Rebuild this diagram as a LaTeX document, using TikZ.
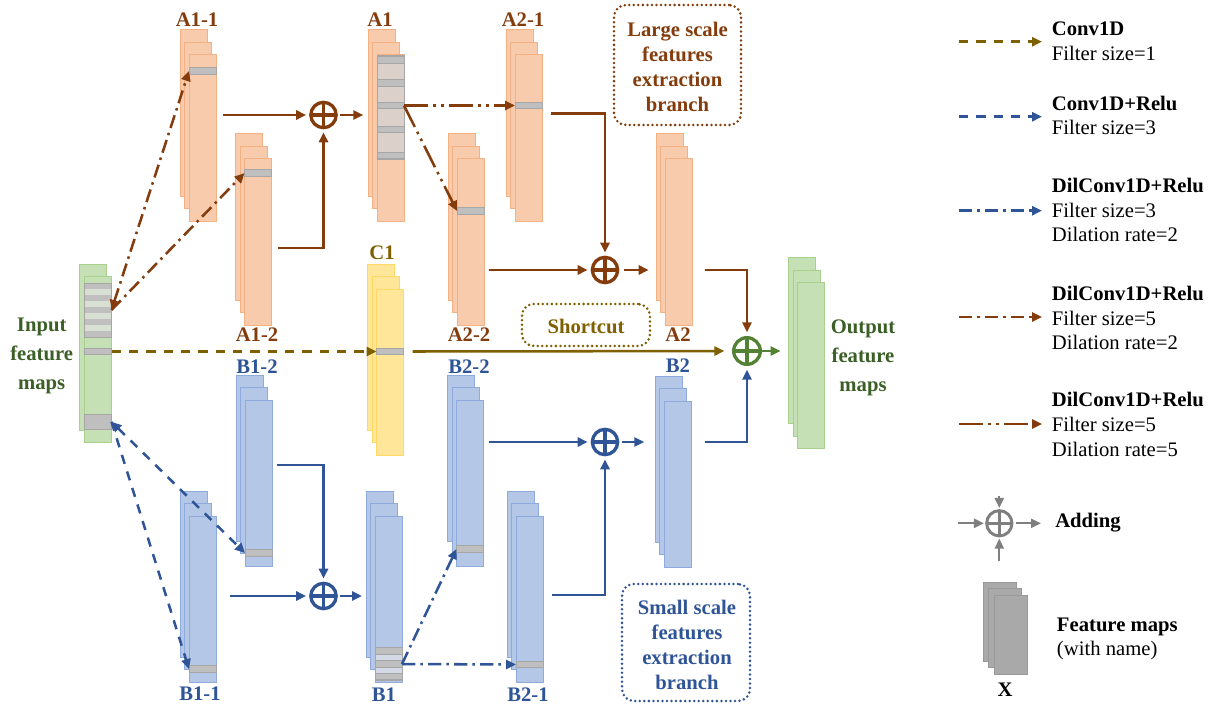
\documentclass[tikz,border=0pt]{standalone}
\usepackage{fontspec}
\setmainfont{Liberation Serif}
\usetikzlibrary{arrows.meta,calc}
\definecolor{orf}{HTML}{F8CBAD}
\definecolor{ord}{HTML}{F4B183}
\definecolor{brn}{HTML}{843C0C}
\definecolor{blf}{HTML}{B4C7E7}
\definecolor{bld}{HTML}{8FAADC}
\definecolor{blu}{HTML}{2F5597}
\definecolor{yef}{HTML}{FFE699}
\definecolor{yed}{HTML}{FFD966}
\definecolor{olv}{HTML}{7F6000}
\definecolor{grf}{HTML}{C5E0B4}
\definecolor{grd}{HTML}{A9D18E}
\definecolor{grt}{HTML}{3B5F26}
\definecolor{grp}{HTML}{548235}
\definecolor{barf}{HTML}{BFBFBF}
\definecolor{bard}{HTML}{A6A6A6}
\definecolor{lgy}{HTML}{7F7F7F}
\definecolor{legf}{HTML}{A9A9A9}
\definecolor{legd}{HTML}{999999}
\definecolor{a1reg}{HTML}{DCD1CA}
\definecolor{b1reg}{HTML}{D3DAE6}
\definecolor{inreg}{HTML}{D8E0D3}
\newcommand\fmstack[4]{%
  \node[#4] (#1-c) at (#2,#3) {};
  \node[#4] (#1-b) at (#2+4.5,#3+12.5) {};
  \node[#4] (#1) at (#2+9,#3+25) {};}
\tikzset{
  fm/.style={draw, line width=0.75pt, inner sep=0pt, outer sep=0pt, minimum width=20.25pt, minimum height=124.5pt, anchor=north west},
  fmo/.style={fm, fill=orf, draw=ord},
  fmb/.style={fm, fill=blf, draw=bld},
  fmy/.style={fm, fill=yef, draw=yed},
  fmg/.style={fm, fill=grf, draw=grd},
  fml/.style={draw=legd, fill=legf, line width=0.75pt, inner sep=0pt, outer sep=0pt, minimum width=24.75pt, minimum height=59.25pt, anchor=north west},
  bar/.style={draw=bard, fill=barf, line width=0.6pt, inner sep=0pt, outer sep=0pt, minimum width=20.25pt, minimum height=4.9pt},
  addop/.style={circle, draw=#1, line width=2.5pt, minimum size=19pt, inner sep=0pt, outer sep=0pt,
    path picture={\draw[draw=#1, line width=2.5pt] (path picture bounding box.north)--(path picture bounding box.south) (path picture bounding box.west)--(path picture bounding box.east);}},
  lab/.style={font=\fontsize{15.5}{19}\selectfont\bfseries, inner sep=0pt, align=center},
  labA/.style={lab, text=brn},
  labB/.style={lab, text=blu},
  ln/.style={line width=1.9pt, ->},
  ab/.style={ln, draw=brn},
  abl/.style={ln, draw=blu},
  dashd/.style={dash pattern=on 7pt off 6pt},
  dashdot/.style={dash pattern=on 10pt off 3.8pt on 1.9pt off 3.8pt},
  dashdotdot/.style={dash pattern=on 18pt off 4pt on 1.9pt off 4pt on 1.9pt off 4pt},
  dbox/.style={draw=#1, line width=2.1pt, dash pattern=on 0pt off 3.4pt, line cap=round, rounded corners=9pt, inner sep=0pt},
  legt/.style={font=\fontsize{15.5}{18.5}\selectfont, align=left, anchor=west, inner sep=0pt},
  >={Triangle[length=7.5pt,width=6.8pt]}
}
\begin{document}
\begin{tikzpicture}[x=0.75pt,y=-0.75pt]
\useasboundingbox (0,0) rectangle (1216,706);

% ---------- feature map stacks ----------
\fmstack{A11}{180}{30}{fmo}
\fmstack{A12}{235.5}{134}{fmo}
\fmstack{A1}{368}{30}{fmo}
\fmstack{A21}{506}{30}{fmo}
\fmstack{A22}{448}{134}{fmo}
\fmstack{A2}{656}{134}{fmo}
\fmstack{C1}{367.5}{264}{fmy}
\fmstack{B12}{236}{375}{fmb}
\fmstack{B22}{447.5}{375}{fmb}
\fmstack{B2}{655}{376}{fmb}
\fmstack{B11}{180}{491}{fmb}
\fmstack{B1}{366}{491}{fmb}
\fmstack{B21}{507}{491}{fmb}
\fmstack{Out}{788.5}{257.5}{fmg}
\node[fmg] (In-c) at (79.5,264) {};
\node[fmg] (In) at (84.5,276) {};

% ---------- gray bars ----------
\node[bar] (A11bar) at (A11.center |- 0,71) {};
\node[bar] (A12bar) at (A12.center |- 0,173) {};
\node[bar] (A21bar) at (A21.center |- 0,105.5) {};
\node[bar] (A22bar) at (A22.center |- 0,211) {};
\node[bar] (C1bar) at (C1.center |- 0,351.5) {};
\node[bar] (B12bar) at (B12.center |- 0,553) {};
\node[bar] (B22bar) at (B22.center |- 0,549) {};
\node[bar] (B11bar) at (B11.center |- 0,669) {};
\node[bar] (B21bar) at (B21.center |- 0,664.5) {};
% A1 region
\node[draw=bard, fill=a1reg, line width=0.6pt, inner sep=0pt, outer sep=0pt, minimum width=20.25pt, minimum height=78pt, anchor=north] (A1reg) at (A1.north) {};
\node[bar] (A1bar1) at (A1.center |- 0,59.7) {};
\node[bar] (A1bar2) at (A1.center |- 0,82.7) {};
\node[bar] (A1bar3) at (A1.center |- 0,105.5) {};
\node[bar] (A1bar4) at (A1.center |- 0,129.2) {};
\node[bar] (A1bar5) at (A1.center |- 0,155.3) {};
% B1 region
\node[draw=bard, fill=b1reg, line width=0.6pt, inner sep=0pt, outer sep=0pt, minimum width=20.25pt, minimum height=24.5pt] (B1reg) at (B1.center |- 0,664) {};
\node[bar] (B1bar1) at (B1.center |- 0,651) {};
\node[bar] (B1bar2) at (B1.center |- 0,664) {};
\node[bar] (B1bar3) at (B1.center |- 0,676.5) {};
% Input bars
\node[draw=bard, fill=barf, line width=0.6pt, inner sep=0pt, outer sep=0pt, minimum width=20.25pt, minimum height=40.5pt] (InStr) at (In.center |- 0,310) {};
\foreach \k in {0,1,2,3}{
  \fill[inreg] (85.2,289.3+12*\k) rectangle (110.8,294.7+12*\k);
}
\node[bar, minimum height=4.5pt] (InBar) at (In.center |- 0,351.5) {};
\node[bar, minimum height=11.25pt] (InLow) at (In.center |- 0,421.8) {};

% ---------- labels ----------
\node[labA] (tA11) at (197,20) {A1-1};
\node[labA] (tA1) at (380,20) {A1};
\node[labA] (tA21) at (523,20) {A2-1};
\node[labA] (tA12) at (257,335) {A1-2};
\node[labA] (tA22) at (469,335) {A2-2};
\node[labA] (tA2) at (678,335) {A2};
\node[lab, text=olv] (tC1) at (382,253) {C1};
\node[labB] (tB12) at (257,367) {B1-2};
\node[labB] (tB22) at (469,367) {B2-2};
\node[labB] (tB2) at (678,366) {B2};
\node[labB] (tB11) at (200,694) {B1-1};
\node[labB] (tB1) at (384,695) {B1};
\node[labB] (tB21) at (528,695) {B2-1};
\node[lab, text=grt, font=\fontsize{15.5}{21.5}\selectfont\bfseries] (tIn) at (41.7,356) {Input\\feature\\maps};
\node[lab, text=grt, font=\fontsize{15.5}{21.5}\selectfont\bfseries] (tOut) at (863,358) {Output\\feature\\maps};

% ---------- boxes ----------
\node[dbox=brn, minimum width=95.25pt, minimum height=90pt] (LBox) at (677.5,65) {};
\node[labA, font=\fontsize{15.5}{18.8}\selectfont\bfseries] (LBoxT) at (677.5,67) {Large scale\\features\\extraction\\branch};
\node[dbox=olv, minimum width=96pt, minimum height=31.5pt] (SBox) at (586,325) {};
\node[lab, text=olv] (SBoxT) at (586,326) {Shortcut};
\node[dbox=blu, minimum width=96pt, minimum height=87.75pt] (BBox) at (686,642.5) {};
\node[labB, font=\fontsize{15.5}{18.8}\selectfont\bfseries] (BBoxT) at (687,645) {Small scale\\features\\extraction\\branch};

% ---------- adders ----------
\node[addop=brn] (pA1) at (323.5,115) {};
\node[addop=brn] (pA2) at (605,270) {};
\node[addop=grp, minimum size=20pt] (pOut) at (747,351) {};
\node[addop=blu] (pB2) at (605,442) {};
\node[addop=blu] (pB1) at (323.5,596) {};

% ---------- connectors: large branch ----------
\draw[ab, dashdot, <->] (InStr.east) -- (A11bar.west);
\draw[ab, dashdot] (InStr.east) -- (A12bar.west);
\draw[ab, shorten >=3.5pt] ($(A11.east|-pA1)+(7,0)$) -- (pA1);
\draw[ab, shorten >=3.5pt] ($(A12.east)+(6,6)$) -| (pA1);
\draw[ab, shorten <=3pt, shorten >=3.5pt] (pA1) -- (A1-c.west|-pA1);
\draw[ab, dashdotdot] (A1bar3.east) -- (A21bar.west);
\draw[ab, dashdotdot] (A1bar3.east) -- (A22bar.west);
\draw[ab, shorten >=3.5pt] ($(A21bar.east)+(9,8)$) -| (pA2);
\draw[ab, shorten >=3.5pt] ($(A22.east|-pA2)+(5,0)$) -- (pA2);
\draw[ab, shorten <=4.5pt, shorten >=5.5pt] (pA2) -- (A2-c.west|-pA2);
\draw[ab, shorten >=4pt] ($(A2.east|-pA2)+(13,0)$) -| (pOut);

% ---------- shortcut ----------
\draw[ln, draw=olv, dashd] (InBar.east) -- (C1bar.west);
\draw[ln, draw=olv, shorten >=7pt] ($(C1bar.east)+(9,0)$) -- (pOut);
\draw[ln, draw=grp, shorten <=1.5pt, shorten >=6pt] (pOut) -- (Out-c.west|-pOut);

% ---------- connectors: small branch ----------
\draw[abl, dashd] (InLow.east) -- (B11bar.west);
\draw[abl, dashd, <->] (InLow.east) -- (B12bar.west);
\draw[abl, shorten >=3.5pt] ($(B11.east|-pB1)+(14,0)$) -- (pB1);
\draw[abl, shorten >=3.5pt] ($(B12.east)+(5,-18)$) -| (pB1);
\draw[abl, shorten <=3pt, shorten >=3pt] (pB1) -- (B1-c.west|-pB1);
\draw[abl, dashdot] (B1bar2.east) -- (B22bar.west);
\draw[abl, dashdot] (B1bar2.east) -- (B21bar.west);
\draw[abl, shorten >=3.5pt] ($(B22.east|-pB2)+(5,0)$) -- (pB2);
\draw[abl, shorten >=3.5pt] ($(B21.east)+(9,-4)$) -| (pB2);
\draw[abl, shorten <=3.5pt, shorten >=8pt] (pB2) -- (B2-c.west|-pB2);
\draw[abl, shorten >=4pt] ($(B2.east|-pB2)+(14,0)$) -| (pOut);

% ---------- legend ----------
\coordinate (l1a) at (959,41.7);   \coordinate (l1b) at (1042,41.7);
\coordinate (l2a) at (959,116.7);  \coordinate (l2b) at (1042,116.7);
\coordinate (l3a) at (959,210.7);  \coordinate (l3b) at (1042,210.7);
\coordinate (l4a) at (959,317);    \coordinate (l4b) at (1042,317);
\coordinate (l5a) at (959,424);    \coordinate (l5b) at (1042,424);
\draw[ln, draw=olv, dashd] (l1a) -- (l1b);
\draw[abl, dashd] (l2a) -- (l2b);
\draw[abl, dashdot] (l3a) -- (l3b);
\draw[ab, dashdot] (l4a) -- (l4b);
\draw[ab, dashdotdot] (l5a) -- (l5b);
\node[legt] (L1) at (1051.7,41.5) {\textbf{Conv1D}\\Filter size=1};
\node[legt] (L2) at (1051.7,115.5) {\textbf{Conv1D+Relu}\\Filter size=3};
\node[legt] (L3) at (1051.7,210) {\textbf{DilConv1D+Relu}\\Filter size=3\\Dilation rate=2};
\node[legt] (L4) at (1051.7,318) {\textbf{DilConv1D+Relu}\\Filter size=5\\Dilation rate=2};
\node[legt] (L5) at (1051.7,424.5) {\textbf{DilConv1D+Relu}\\Filter size=5\\Dilation rate=5};

\node[addop=lgy, line width=2.2pt] (lgAdd) at (999.3,523.3) {};
\coordinate (lgL) at (958,523.3);
\coordinate (lgR) at (1041,523.3);
\coordinate (lgT) at (999.3,496);
\coordinate (lgB) at (999.3,561);
\draw[ln, draw=lgy, line width=1.6pt, shorten >=2pt] (lgL) -- (lgAdd);
\draw[ln, draw=lgy, line width=1.6pt, shorten <=3pt] (lgAdd) -- (lgR);
\draw[ln, draw=lgy, line width=1.6pt, shorten >=2pt] (lgT) -- (lgAdd);
\draw[ln, draw=lgy, line width=1.6pt, shorten >=2pt] (lgB) -- (lgAdd);
\node[legt, font=\fontsize{15.5}{18.5}\selectfont\bfseries] (LAdd) at (1055,523) {Adding};

\node[fml] (LX-c) at (983.3,582.3) {};
\node[fml] (LX-b) at (988.8,588.6) {};
\node[fml] (LX) at (994.3,595) {};
\node[lab, text=black] (tLX) at (1005,690) {X};
\node[legt] (LFM) at (1056.7,639) {\textbf{Feature maps}\\(with name)};
\end{tikzpicture}
\end{document}
